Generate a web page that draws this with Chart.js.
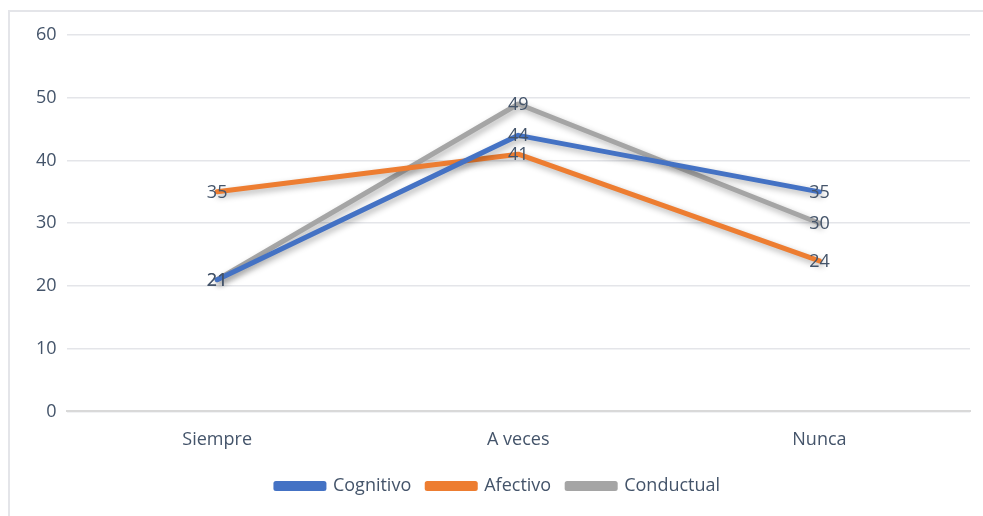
<!DOCTYPE html>
<html>
<head>
<meta charset="utf-8">
<script src="https://cdn.jsdelivr.net/npm/chart.js@4/dist/chart.umd.min.js"></script>
<style>
  html, body { margin: 0; padding: 0; background: #fff; overflow: hidden; }
  #wrap { position: absolute; left: 8px; top: 10px; width: 990px; height: 506px;
          border: 2px solid #e4e5e9; border-bottom: none; box-sizing: border-box; }
</style>
</head>
<body>
<div id="wrap"><canvas id="grafico"></canvas></div>
<script>
const categorias = ["Siempre", "A veces", "Nunca"];
const cognitivo = [21, 44, 35];
const afectivo = [35, 41, 24];
const conductual = [21, 49, 30];
const ticksY = [0, 10, 20, 30, 40, 50, 60];

const colorTexto = "#44546a";
const fuente = "'Open Sans', 'Liberation Sans', sans-serif";

// sombras suaves bajo las lineas, como en Excel
const sombra = {
  id: "sombra",
  beforeDatasetsDraw(chart) {
    const c = chart.ctx;
    c.save();
    c.shadowColor = "rgba(0,0,0,0.3)";
    c.shadowBlur = 6;
    c.shadowOffsetX = 2;
    c.shadowOffsetY = 3;
  },
  afterDatasetsDraw(chart) {
    chart.ctx.restore();
  },
};

// etiquetas de datos centradas en cada punto
const etiquetas = {
  id: "etiquetas",
  afterDatasetsDraw(chart) {
    const c = chart.ctx;
    c.save();
    c.font = "18px " + fuente;
    c.fillStyle = colorTexto;
    c.textAlign = "center";
    c.textBaseline = "middle";
    chart.data.datasets.forEach((ds, i) => {
      chart.getDatasetMeta(i).data.forEach((pt, j) => {
        c.fillText(ds.data[j], pt.x, pt.y + 1);
      });
    });
    c.restore();
  },
};

const ctx = document.getElementById("grafico").getContext("2d");
new Chart(ctx, {
  type: "line",
  data: {
    labels: categorias,
    datasets: [
      { label: "Cognitivo", data: cognitivo, borderColor: "#4472c4", backgroundColor: "#4472c4" },
      { label: "Afectivo", data: afectivo, borderColor: "#ed7d31", backgroundColor: "#ed7d31" },
      { label: "Conductual", data: conductual, borderColor: "#a5a5a5", backgroundColor: "#a5a5a5" },
    ],
  },
  options: {
    responsive: true,
    maintainAspectRatio: false,
    animation: false,
    layout: { padding: { left: 16, right: 26, top: 23, bottom: 11 } },
    elements: {
      line: { borderWidth: 5, tension: 0, borderCapStyle: "round", borderJoinStyle: "round" },
      point: { radius: 0, hoverRadius: 0 },
    },
    plugins: {
      tooltip: { enabled: false },
      legend: {
        position: "bottom",
        labels: {
          boxWidth: 48,
          boxHeight: 5,
          color: colorTexto,
          font: { family: fuente, size: 18 },
          padding: 16,
        },
      },
    },
    scales: {
      x: {
        offset: true,
        grid: { display: false },
        border: { color: "#d9d9d9", width: 2 },
        ticks: { color: colorTexto, font: { family: fuente, size: 18 }, padding: 10 },
      },
      y: {
        min: 0,
        max: 60,
        afterBuildTicks: (axis) => { axis.ticks = ticksY.map((v) => ({ value: v })); },
        grid: { color: "#e4e5e9", lineWidth: 1.5, drawTicks: false },
        border: { display: false },
        ticks: { color: colorTexto, font: { family: fuente, size: 18 }, padding: 10 },
      },
    },
  },
  plugins: [sombra, etiquetas],
});
</script>
</body>
</html>
